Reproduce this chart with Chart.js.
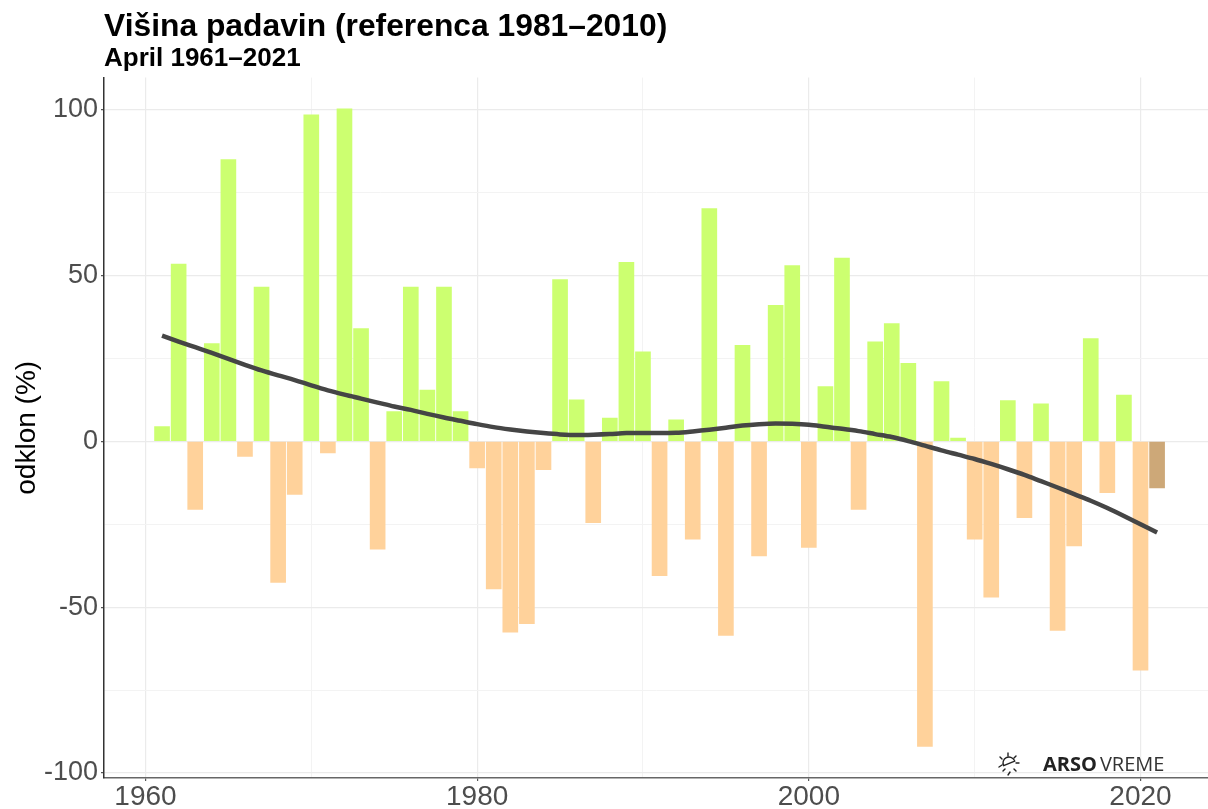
<!DOCTYPE html>
<html><head><meta charset="utf-8">
<style>html,body{margin:0;padding:0;background:#fff}#w{width:1208px;height:809px;position:relative}canvas{display:block}</style>
<script src="https://cdn.jsdelivr.net/npm/chart.js@4"></script></head>
<body><div id="w"><canvas id="c" width="1208" height="809"></canvas></div>
<script>
const years=[1961,1962,1963,1964,1965,1966,1967,1968,1969,1970,1971,1972,1973,1974,1975,1976,1977,1978,1979,1980,1981,1982,1983,1984,1985,1986,1987,1988,1989,1990,1991,1992,1993,1994,1995,1996,1997,1998,1999,2000,2001,2002,2003,2004,2005,2006,2007,2008,2009,2010,2011,2012,2013,2014,2015,2016,2017,2018,2019,2020,2021];
const anomaly=[4.5,53.5,-20.5,29.5,85,-4.5,46.5,-42.5,-16,98.5,-3.5,100.3,34,-32.5,9,46.5,15.5,46.5,9,-8,-44.5,-57.5,-55,-8.5,48.8,12.5,-24.5,7,54,27,-40.5,6.5,-29.5,70.2,-58.5,29,-34.5,41,53,-32,16.5,55.3,-20.5,30,35.5,23.5,-92,18,1,-29.5,-47,12.3,-23,11.3,-57,-31.5,31,-15.5,14,-69,-14];
const trend=[31.9,30.1,28.4,26.7,24.9,23.1,21.4,19.9,18.5,16.9,15.4,14.1,12.9,11.7,10.5,9.5,8.3,7.2,6.2,5.2,4.3,3.6,3,2.5,2.1,1.9,2,2.2,2.5,2.5,2.5,2.6,3,3.5,4.1,4.8,5.2,5.4,5.3,5,4.4,3.8,3.1,2.2,1.3,0.1,-1.3,-2.7,-4,-5.3,-6.8,-8.4,-10.1,-12,-13.9,-15.9,-17.9,-20.1,-22.5,-25,-27.5];
const mainTitle='Višina padavin (referenca 1981–2010)';
const subTitle='April 1961–2021';
const yLabel='odklon (%)';
const xTicksMajor=[1960,1980,2000,2020];
const yTicksMajor=[-100,-50,0,50,100];
const sun=(ctx,cx,cy)=>{
  ctx.save();ctx.strokeStyle='#222';ctx.lineWidth=1.4;ctx.lineCap='round';
  ctx.beginPath();ctx.arc(cx+1,cy-1,6,Math.PI*0.85,Math.PI*1.9);ctx.closePath();ctx.stroke();
  [[0,-11,0,-8],[8,-8,6,-6],[11,-1,8,-1],[8,7,6,5],[-8,-7,-6,-5],[-9,3,-6,1],[-5,7,-3,5],[0,11,2,8]].forEach(s=>{ctx.beginPath();ctx.moveTo(cx+s[0],cy+s[1]);ctx.lineTo(cx+s[2],cy+s[3]);ctx.stroke();});
  ctx.restore();
};
const logo={id:'logo',afterDraw(ch){
  const c=ch.ctx;sun(c,1008,764);
  c.save();c.textBaseline='alphabetic';c.textAlign='left';c.fillStyle='#222';
  c.font='bold 20px "Open Sans"';c.fillText('ARSO',1043,771);
  const w=c.measureText('ARSO').width;
  c.font='20px "Open Sans"';c.fillStyle='#333';c.fillText('VREME',1043+w+3,771);
  c.restore();
}};
const isMajX=v=>xTicksMajor.includes(v), isMajY=v=>yTicksMajor.includes(v);
new Chart(document.getElementById('c'),{
  data:{datasets:[
    {type:'line',order:0,data:years.map((y,i)=>({x:y,y:trend[i]})),borderColor:'#454545',borderWidth:4.5,pointRadius:0,cubicInterpolationMode:'monotone'},
    {type:'bar',order:1,data:years.map((y,i)=>({x:y,y:anomaly[i]})),barThickness:15,
     backgroundColor:years.map((y,i)=>y===2021?'#CDA878':anomaly[i]>=0?'#CCFF70':'#FFD29B')}
  ]},
  options:{responsive:false,animation:false,
    layout:{padding:0},
    plugins:{legend:{display:false},tooltip:{enabled:false},
      title:{display:true,text:mainTitle,align:'start',fullSize:false,color:'#000',font:{family:'Liberation Sans',size:31.8,weight:'bold',lineHeight:1.1},padding:{top:9.5,bottom:0}},
      subtitle:{display:true,text:subTitle,align:'start',fullSize:false,color:'#000',font:{family:'Liberation Sans',size:26,weight:'bold',lineHeight:1.1},padding:{top:0,bottom:4.5}}
    },
    scales:{
      x:{type:'linear',min:1957.5,max:2024.07,offset:false,afterFit(s){s.height=31},
        border:{display:true,color:'#666',width:1.5},
        grid:{offset:false,color:c=>c.tick&&isMajX(c.tick.value)?'#ebebeb':'#f3f3f3',lineWidth:c=>c.tick&&isMajX(c.tick.value)?1.2:1,tickLength:3,tickColor:c=>c.tick&&isMajX(c.tick.value)?'#555':'transparent'},
        ticks:{stepSize:10,includeBounds:false,autoSkip:false,maxRotation:0,padding:-1,color:'#4d4d4d',font:{family:'Liberation Sans',size:28},callback:v=>isMajX(v)?String(v):''}},
      y:{min:-101.5,max:109.7,afterFit(s){s.width=104},
        border:{display:true,color:'#333',width:1.5},
        grid:{offset:false,color:c=>c.tick&&isMajY(c.tick.value)?'#ebebeb':'#f3f3f3',lineWidth:c=>c.tick&&isMajY(c.tick.value)?1.2:1,tickLength:3,tickColor:c=>c.tick&&isMajY(c.tick.value)?'#555':'transparent'},
        title:{display:true,text:yLabel,color:'#000',font:{family:'Liberation Sans',size:28},padding:{top:10,bottom:0}},
        ticks:{stepSize:25,includeBounds:false,autoSkip:false,padding:3,color:'#4d4d4d',font:{family:'Liberation Sans',size:27},callback:v=>isMajY(v)?String(v):''}}
    }
  },
  plugins:[logo]
});
</script></body></html>
